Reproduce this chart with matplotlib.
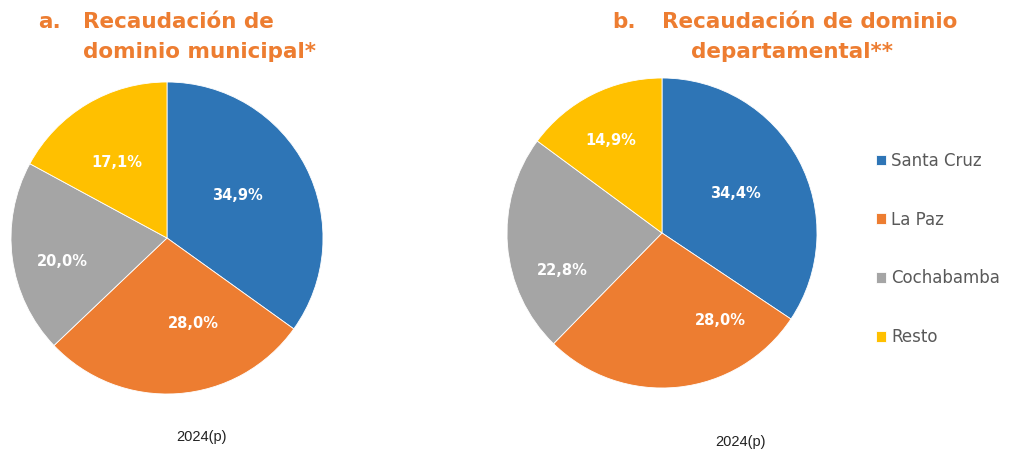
#!/usr/bin/env python3
"""
Recaudación de dominio municipal / departamental 2024(p) - pie charts
"""

import numpy as np
import matplotlib.pyplot as plt

# Data
regions = ['Santa Cruz', 'La Paz', 'Cochabamba', 'Resto']
municipal = [34.9, 28.0, 20.0, 17.1]
departamental = [34.4, 28.0, 22.8, 14.9]
period = '2024(p)'

colors = ['#2E75B6', '#ED7D31', '#A5A5A5', '#FFC000']
title_color = '#ED7D31'

# label placement (radius fraction, angle shift in degrees) - mimics Excel "best fit"
label_pos_a = [(0.53, 4), (0.57, 13), (0.69, 5), (0.58, 3)]
label_pos_b = [(0.54, 0), (0.68, 28), (0.69, 16), (0.68, 2)]

W, H = 1021, 450


def px_axes(fig, cx, cy, r):
    """Square axes centered at pixel (cx, cy) with radius r (pixels from top-left)"""
    return fig.add_axes([(cx - r) / W, (H - cy - r) / H, 2 * r / W, 2 * r / H])


def fmt(v):
    return f'{v:.1f}%'.replace('.', ',')


def draw_pie(ax, values, label_pos):
    wedges, _ = ax.pie(values, colors=colors, startangle=90, counterclock=False,
                       radius=1.0, wedgeprops=dict(edgecolor='white', linewidth=0.6))
    # value labels near the middle of each wedge
    for w, v, (r, shift) in zip(wedges, values, label_pos):
        mid = np.deg2rad((w.theta1 + w.theta2) / 2 + shift)
        ax.text(r * np.cos(mid), r * np.sin(mid), fmt(v), ha='center', va='center',
                color='white', fontsize=10.5, fontweight='bold')
    ax.set_xlim(-1, 1)
    ax.set_ylim(-1, 1)
    return wedges


fig = plt.figure(figsize=(W / 100, H / 100), dpi=100)

ax_a = px_axes(fig, 167, 238, 156)
wedges = draw_pie(ax_a, municipal, label_pos_a)
ax_b = px_axes(fig, 662, 233, 155)
draw_pie(ax_b, departamental, label_pos_b)

# Titles
tkw = dict(color=title_color, fontsize=15.5, fontweight='bold', va='center')
fig.text(38 / W, 1 - 22 / H, 'a.', **tkw)
fig.text(83 / W, 1 - 22 / H, 'Recaudación de', **tkw)
fig.text(83 / W, 1 - 52 / H, 'dominio municipal*', **tkw)
fig.text(612 / W, 1 - 22 / H, 'b.', **tkw)
fig.text(662 / W, 1 - 22 / H, 'Recaudación de dominio', **tkw)
fig.text(792 / W, 1 - 52 / H, 'departamental**', ha='center', **tkw)

# Period labels
fig.text(201 / W, 1 - 437 / H, period, ha='center', va='center',
         fontsize=10.5, family='Liberation Sans', color='#222222')
fig.text(740 / W, 1 - 442 / H, period, ha='center', va='center',
         fontsize=10.5, family='Liberation Sans', color='#222222')

# Legend
fig.legend(wedges, regions, loc='center left', bbox_to_anchor=(868 / W, 1 - 249 / H),
           frameon=False, handlelength=0.6, handleheight=0.6, handletextpad=0.3,
           labelspacing=2.45, fontsize=12, labelcolor='#595959', borderpad=0)

plt.savefig('out.png', dpi=100)
plt.close()
print('Saved: out.png')
